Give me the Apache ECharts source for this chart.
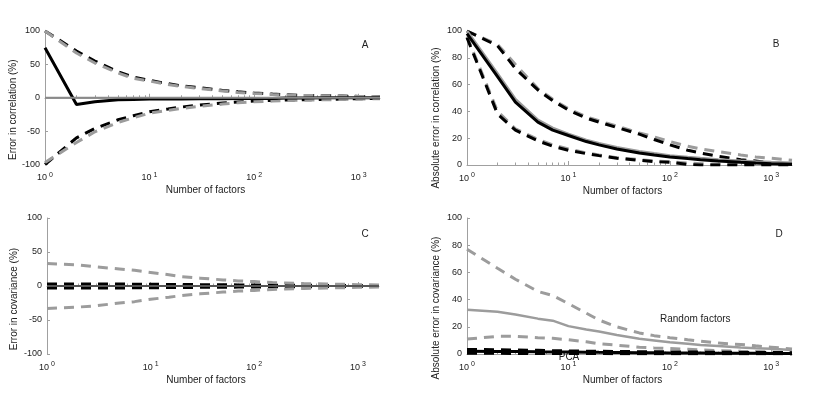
<!DOCTYPE html>
<html>
<head>
<meta charset="utf-8">
<script src="https://cdn.jsdelivr.net/npm/echarts@6/dist/echarts.min.js"></script>
<style>
  html, body { margin: 0; padding: 0; background: #fff; }
  #chart { width: 817px; height: 398px; }
</style>
</head>
<body>
<div id="chart"></div>
<script>
// number of factors (x positions shared by all panels)
const factors = [1, 2, 3, 5, 7, 10, 15, 20, 30, 50, 70, 100, 150, 200, 300, 500, 700, 1000, 1600]
const X_MAX = 1600
const xTicks = [1, 10, 100, 1000]

// A: error in correlation (%)
const aPcaMean = [75, -10, -6, -3, -2.5, -2, -2, -2, -1.5, -1.5, -1, -1, -1, -0.5, -0.5, 0, 0, 0, 0]
const aPcaHigh = [100, 70, 55, 39, 31, 26, 21, 18, 15, 11, 9, 7, 5.5, 4.5, 3.5, 3, 2.5, 2, 1.5]
const aPcaLow = [-100, -60, -46, -33, -27, -21, -17, -14, -11, -8, -6.5, -5, -4, -3.5, -3, -2.5, -2, -1.5, -1]
const aRndMean = [0, 0, 0, 0, 0, 0, 0, 0, 0, 0, 0, 0, 0, 0, 0, 0, 0, 0, 0]
const aRndHigh = [100, 67, 52, 37, 29, 25, 20, 17, 14, 10, 8, 6.5, 5, 4, 3.5, 3, 2.5, 2, 1.5]
const aRndLow = [-97, -67, -51, -37, -30, -23, -19, -16, -13, -9.5, -7.5, -6, -5, -4, -3.5, -3, -2.5, -2, -1.5]

// B: absolute error in correlation (%)
const bPcaMean = [98, 66, 47, 32, 26, 22, 17.5, 15, 12, 9, 7.5, 6, 4.8, 4, 3, 2, 1.5, 1, 0.5]
const bPcaHigh = [100, 89, 72, 56, 48, 41, 35, 32, 28, 23, 19, 15, 11, 9, 6.5, 4, 3, 1.5, 0.5]
const bPcaLow = [95, 38, 26, 18, 14, 11, 8.5, 7, 5, 3.5, 2.5, 2, 0.5, 0, 0, 0, 0, 0, 0]
const bRndMean = [100, 68, 49, 33.5, 27.5, 23, 18.5, 16, 13, 10, 8.5, 7, 5.8, 5, 4, 3, 2.5, 2, 1.5]
const bRndHigh = [100, 90, 75, 57, 49, 42, 36, 33, 29, 24, 21, 17.5, 14, 12, 10, 7.5, 6, 5, 3.5]
const bRndLow = [96, 40, 27, 19, 15, 12, 9, 7.5, 5.5, 4, 3, 2.5, 1.5, 1, 0.5, 0.5, 0.5, 0.5, 0.5]

// C: error in covariance (%)
const cPcaMean = [0, 0, 0, 0, 0, 0, 0, 0, 0, 0, 0, 0, 0, 0, 0, 0, 0, 0, 0]
const cPcaHigh = [3, 3, 3, 2.8, 2.7, 2.5, 2.3, 2.2, 2, 1.8, 1.6, 1.5, 1.3, 1.2, 1, 0.8, 0.7, 0.5, 0.5]
const cPcaLow = [-3, -3, -3, -2.8, -2.7, -2.5, -2.3, -2.2, -2, -1.8, -1.6, -1.5, -1.3, -1.2, -1, -0.8, -0.7, -0.5, -0.5]
const cRndMean = [0, 0, 0, 0, 0, 0, 0, 0, 0, 0, 0, 0, 0, 0, 0, 0, 0, 0, 0]
const cRndHigh = [33, 31, 28, 25, 23, 20, 16.5, 13.5, 11.5, 9, 7.5, 6.5, 5, 4.5, 3.5, 3, 2.5, 2, 1.5]
const cRndLow = [-33, -31, -29, -25, -23, -19.5, -16.5, -14, -11.5, -9, -7.5, -6.5, -5, -4.5, -3.5, -3, -2.5, -2, -1.5]

// D: absolute error in covariance (%)
const dPcaMean = [2, 1.9, 1.8, 1.6, 1.5, 1.4, 1.3, 1.2, 1.1, 1, 0.9, 0.8, 0.7, 0.7, 0.6, 0.5, 0.5, 0.4, 0.4]
const dPcaHigh = [3, 2.8, 2.6, 2.3, 2.1, 1.9, 1.7, 1.6, 1.5, 1.3, 1.2, 1.2, 1.1, 1, 0.9, 0.8, 0.7, 0.7, 0.6]
const dPcaLow = [0.5, 0.5, 0.4, 0.4, 0.3, 0.3, 0.3, 0.3, 0.2, 0.2, 0.2, 0.2, 0.2, 0.1, 0.1, 0.1, 0.1, 0.1, 0.1]
const dRndMean = [32.5, 31, 29, 26, 24.5, 20.5, 18, 16.5, 14, 11.2, 10, 8.6, 7.5, 6.7, 5.8, 4.8, 4.2, 3.8, 3]
const dRndHigh = [77, 63, 55, 46, 43, 37, 30, 25, 20, 15.5, 13.5, 12, 10.5, 9.5, 8, 7, 6, 5, 3.7]
const dRndLow = [11, 13, 13, 12, 11.5, 10.5, 9, 7.5, 6.5, 5, 4.5, 4, 3.5, 3, 2.5, 2, 1.8, 1.5, 1.2]

const yTicksSigned = { min: -100, max: 100, interval: 50 }
const yTicksAbs = { min: 0, max: 100, interval: 20 }

const BLACK = '#000'
const GRAY = '#9c9c9c'
const AXIS = '#a0a0a0'
const TEXT = '#222'
const FONT = 'Liberation Sans'

const grids = [
  { left: 45, top: 31, width: 335, height: 133.5 },
  { left: 467, top: 31, width: 325, height: 134 },
  { left: 47, top: 218, width: 332, height: 136 },
  { left: 467, top: 218, width: 325, height: 136 },
]

function pairs(ys) {
  return factors.map((f, i) => [f, ys[i]])
}

function logLabel(v) {
  const e = Math.round(Math.log10(v))
  if (Math.abs(Math.pow(10, e) - v) > 1e-6) return ''
  return '10{sup|' + e + '}'
}

function xAxis(gridIndex) {
  return {
    type: 'log',
    gridIndex,
    logBase: 10,
    min: 1,
    max: X_MAX,
    name: 'Number of factors',
    nameLocation: 'middle',
    nameGap: 21,
    nameTextStyle: { fontSize: 10, color: TEXT, fontFamily: FONT, padding: [0, 14, 0, 0] },
    axisLine: { lineStyle: { color: AXIS, width: 1 } },
    axisTick: { inside: true, length: 4, customValues: xTicks, lineStyle: { color: AXIS } },
    minorTick: { show: true, splitNumber: 9, length: 2.5, lineStyle: { color: AXIS } },
    axisLabel: {
      customValues: xTicks,
      formatter: logLabel,
      margin: 7,
      fontSize: 9,
      color: TEXT,
      fontFamily: FONT,
      rich: { sup: { fontSize: 7, padding: [0, 0, 6, 2], color: TEXT, fontFamily: FONT } },
    },
    splitLine: { show: false },
    minorSplitLine: { show: false },
  }
}

function yAxis(gridIndex, name, ticks, gap, shift) {
  return {
    type: 'value',
    gridIndex,
    ...ticks,
    name,
    nameLocation: 'middle',
    nameGap: gap,
    nameTextStyle: { fontSize: 10, color: TEXT, fontFamily: FONT, padding: [0, shift, 0, 0] },
    axisLine: { show: true, lineStyle: { color: AXIS, width: 1 } },
    axisTick: { show: true, inside: true, length: 3, lineStyle: { color: AXIS } },
    axisLabel: { fontSize: 9, color: TEXT, fontFamily: FONT, margin: 5 },
    splitLine: { show: false },
  }
}

function line(idx, ys, color, dashed, width) {
  return {
    type: 'line',
    xAxisIndex: idx,
    yAxisIndex: idx,
    data: pairs(ys),
    showSymbol: false,
    symbol: 'none',
    silent: true,
    lineStyle: {
      color,
      width,
      type: dashed ? [10, 7] : 'solid',
      cap: 'butt',
    },
  }
}

// draw order per panel, later series on top
const series = [
  line(0, aPcaHigh, BLACK, true, 3),
  line(0, aPcaLow, BLACK, true, 3),
  line(0, aRndHigh, GRAY, true, 3),
  line(0, aRndLow, GRAY, true, 3),
  line(0, aPcaMean, BLACK, false, 3),
  line(0, aRndMean, '#8a8a8a', false, 2),

  line(1, bRndLow, GRAY, true, 3),
  line(1, bRndHigh, GRAY, true, 3),
  line(1, bPcaLow, BLACK, true, 3),
  line(1, bPcaHigh, BLACK, true, 3),
  line(1, bRndMean, GRAY, false, 3),
  line(1, bPcaMean, BLACK, false, 3),

  line(2, cPcaHigh, BLACK, true, 3),
  line(2, cPcaLow, BLACK, true, 3),
  line(2, cRndHigh, GRAY, true, 3),
  line(2, cRndLow, GRAY, true, 3),
  line(2, cPcaMean, BLACK, false, 1.5),
  line(2, cRndMean, '#555', false, 2),

  line(3, dRndHigh, GRAY, true, 3),
  line(3, dRndLow, GRAY, true, 3),
  line(3, dRndMean, GRAY, false, 2.5),
  line(3, dPcaLow, BLACK, true, 3),
  line(3, dPcaMean, BLACK, false, 3),
  line(3, dPcaHigh, BLACK, true, 4),
]

function label(text, x, y, extra) {
  return {
    type: 'text',
    x,
    y,
    z: 1,
    style: {
      text,
      fontSize: 10,
      fontFamily: FONT,
      fill: TEXT,
      align: 'center',
      verticalAlign: 'middle',
      ...extra,
    },
  }
}

const chart = echarts.init(document.getElementById('chart'), null, { renderer: 'canvas' })
chart.setOption({
  animation: false,
  backgroundColor: '#fff',
  textStyle: { fontFamily: FONT },
  grid: grids,
  xAxis: [xAxis(0), xAxis(1), xAxis(2), xAxis(3)],
  yAxis: [
    yAxis(0, 'Error in correlation (%)', yTicksSigned, 26, 24),
    yAxis(1, 'Absolute error in correlation (%)', yTicksAbs, 26, 40),
    yAxis(2, 'Error in covariance (%)', yTicksSigned, 28, 26),
    yAxis(3, 'Absolute error in covariance (%)', yTicksAbs, 26, 44),
  ],
  series,
  graphic: [
    label('A', 365, 45),
    label('B', 776, 44),
    label('C', 365, 234),
    label('D', 779, 234),
    label('Random factors', 660, 319, { align: 'left' }),
    label('PCA', 569, 357),
  ],
})
</script>
</body>
</html>
